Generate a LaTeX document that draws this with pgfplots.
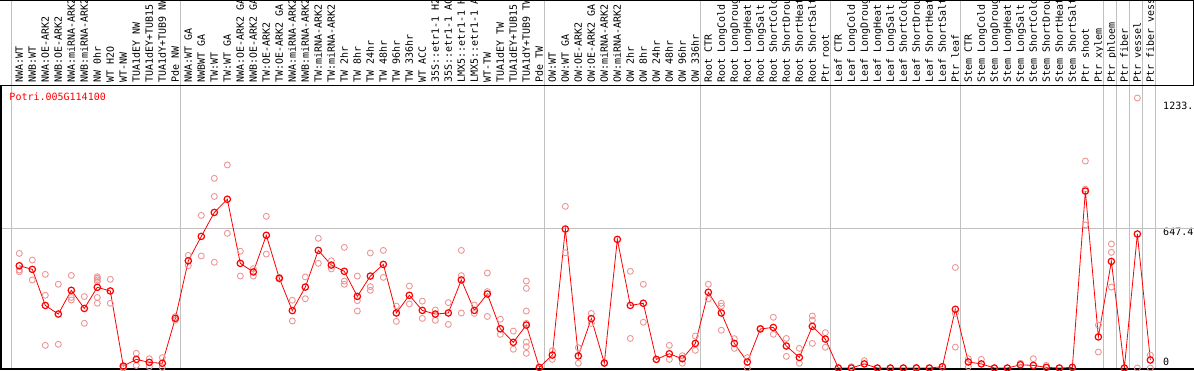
\documentclass[border=0pt]{standalone}
\usepackage{fontspec}
\usepackage{pgfplots}
\pgfplotsset{compat=1.18}
\newfontfamily\dvmono{DejaVu Sans Mono}
\definecolor{rep}{RGB}{236,150,150}
\definecolor{gridg}{RGB}{192,192,192}
\newcommand{\lblfont}{\dvmono\fontsize{10}{12}\selectfont}
\begin{document}
\begin{tikzpicture}
\begin{axis}[
  at={(0,0)}, anchor=south west,
  scale only axis, width=1193pt, height=283.5pt,
  xmin=-1.408, xmax=90.36, ymin=-4.6, ymax=1309.1,
  clip=false,
  axis line style={draw=none},
  major tick length=0pt,
  xtick={0,...,87},
  xticklabels={NWA:WT,NWB:WT,NWA:OE-ARK2,NWB:OE-ARK2,NWA:miRNA-ARK2,NWB:miRNA-ARK2,NW 0hr,WT H2O,WT-NW,TUA1dEY NW,TUA1dEY+TUB15 NW,TUA1dY+TUB9 NW,Pde NW,
    NWA:WT GA,NWBWT GA,TW:WT,TW:WT GA,NWA:OE-ARK2 GA,NWB:OE-ARK2 GA,TW:OE-ARK2,TW:OE-ARK2 GA,NWA:miRNA-ARK2 GA,NWB:miRNA-ARK2 GA,TW:miRNA-ARK2,TW:miRNA-ARK2 GA,TW 2hr,TW 8hr,TW 24hr,TW 48hr,TW 96hr,TW 336hr,WT ACC,35S::etr1-1 H2O,35S::etr1-1 ACC,LMX5::etr1-1 H2O,LMX5::etr1-1 ACC,WT-TW,TUA1dEY TW,TUA1dEY+TUB15 TW,TUA1dY+TUB9 TW,Pde TW,
    OW:WT,OW:WT GA,OW:OE-ARK2,OW:OE-ARK2 GA,OW:miRNA-ARK2,OW:miRNA-ARK2 GA,OW 2hr,OW 8hr,OW 24hr,OW 48hr,OW 96hr,OW 336hr,
    Root CTR,Root LongCold,Root LongDrought,Root LongHeat,Root LongSalt,Root ShortCold,Root ShortDrought,Root ShortHeat,Root ShortSalt,Ptr root,
    Leaf CTR,Leaf LongCold,Leaf LongDrought,Leaf LongHeat,Leaf LongSalt,Leaf ShortCold,Leaf ShortDrought,Leaf ShortHeat,Leaf ShortSalt,Ptr leaf,
    Stem CTR,Stem LongCold,Stem LongDrought,Stem LongHeat,Stem LongSalt,Stem ShortCold,Stem ShortDrought,Stem ShortHeat,Stem ShortSalt,Ptr shoot,Ptr xylem,
    Ptr phloem,Ptr fiber,Ptr vessel,Ptr fiber vessel},
  xticklabel pos=upper,
  xticklabel shift=2.5pt,
  xticklabel style={rotate=90, anchor=west, inner sep=0pt, font=\lblfont, text height=7pt, text depth=0pt},
  ytick={647.4,1233},
  yticklabels={647.4,1233.},
  yticklabel pos=right,
  yticklabel style={anchor=north west, inner sep=0pt, xshift=-31pt, font=\lblfont},
  extra y ticks={0}, extra y tick labels={0},
  extra y tick style={yticklabel style={anchor=south west, yshift=2.5pt}},
]
\pgfplotsinvokeforeach{-0.615,12.385,40.385,52.385,62.385,72.385,83.385,84.385,85.385,86.385,87.385}{
  \draw[gridg, line width=0.9pt] (axis cs:#1,-4.6) -- (axis cs:#1,1309.1) -- ++(0pt,85.5pt);
}
\draw[gridg, line width=0.9pt] (axis cs:-1.408,647.4) -- (axis cs:90.36,647.4);

\addplot[only marks, mark=o, mark size=3pt, color=rep, mark options={line width=0.9pt}] coordinates {
(0,531)(0,454)(0,446)(1,500)(1,408)(2,434)(2,337)(2,105)(3,388)(3,110)
(4,429)(4,327)(4,315)(5,331)(5,207)(6,423)(6,416)(6,408)(6,400)(6,327)(6,300)
(7,411)(7,300)(8,0)(8,5)(9,68)(9,12)(10,43)(10,6)(11,48)(11,3)(12,238)(12,222)
(13,522)(13,474)(14,707)(14,519)(15,879)(15,795)(15,490)(16,941)(16,624)
(17,541)(17,426)(18,460)(18,426)(19,703)(19,528)(20,420)(20,412)(21,314)(21,218)
(22,422)(22,321)(23,601)(23,485)(24,497)(24,459)(25,559)(25,403)(25,388)
(26,426)(26,312)(26,264)(27,533)(27,377)(27,360)(28,545)(28,420)(29,287)(29,216)
(30,380)(30,297)(31,310)(31,230)(32,269)(32,221)(33,303)(33,202)
(34,545)(34,428)(34,255)(35,292)(35,253)(36,440)(36,354)(36,239)(37,226)(37,156)
(38,171)(38,87)(39,403)(39,369)(39,264)(39,207)(39,120)(39,99)(39,68)(40,0)
(41,80)(41,40)(42,749)(42,534)(43,94)(43,22)(44,253)(44,207)(45,23)
(47,448)(47,137)(48,388)(48,212)(49,40)(50,105)(50,40)(51,57)(51,22)(52,148)(52,82)
(53,388)(53,320)(54,300)(54,287)(54,175)(55,136)(55,91)(56,48)(56,0)(57,184)
(58,235)(58,156)(59,137)(59,54)(60,91)(60,22)(61,241)(61,222)(61,114)(62,164)(62,96)
(63,0)(64,6)(65,34)(66,0)(67,0)(68,0)(69,3)(70,0)(71,6)(72,466)(72,253)(72,97)
(73,43)(73,6)(74,40)(75,0)(76,0)(77,22)(78,43)(79,12)(80,0)(81,3)
(82,959)(82,829)(82,663)(83,199)(83,74)(84,575)(84,536)(84,375)(85,0)
(86,1251)(86,0)(87,60)(87,0)
};

\addplot[red, line width=0.8pt, mark=o, mark size=3.2pt, mark options={line width=1.2pt}] coordinates {
(0,474)(1,457)(2,290)(3,250)(4,360)(5,276)(6,374)(7,357)(8,9)(9,40)
(10,26)(11,22)(12,230)(13,497)(14,610)(15,721)(16,782)(17,485)(18,445)(19,615)
(20,416)(21,266)(22,375)(23,545)(24,477)(25,448)(26,332)(27,426)(28,480)(29,255)
(30,337)(31,267)(32,250)(33,255)(34,408)(35,267)(36,343)(37,182)(38,119)(39,199)
(40,3)(41,60)(42,644)(43,56)(44,229)(45,23)(46,596)(47,290)(48,300)(49,40)
(50,66)(51,43)(52,114)(53,351)(54,255)(55,114)(56,28)(57,181)(58,188)(59,102)
(60,49)(61,193)(62,134)(63,0)(64,0)(65,19)(66,0)(67,0)(68,0)(69,0)
(70,0)(71,6)(72,272)(73,28)(74,19)(75,0)(76,0)(77,15)(78,12)(79,3)
(80,0)(81,3)(82,820)(83,144)(84,494)(85,0)(86,621)(87,37)
};

\draw[black, line width=1.4pt] (rel axis cs:0,1) -- (rel axis cs:0,0) -- (rel axis cs:1,0);
\draw[black, line width=1pt] (rel axis cs:0,1) -- (rel axis cs:1,1);
\end{axis}
\draw[black, line width=1pt] (-1pt,368.5pt) -- (1192.5pt,368.5pt) -- (1192.5pt,283.5pt);
\node[anchor=north west, inner sep=0pt, text=red, font=\lblfont] at (8.3pt,276.7pt) {Potri.005G114100};
\pgfresetboundingbox
\path[use as bounding box] (-1pt,-1pt) rectangle (1193pt,369pt);
\end{tikzpicture}
\end{document}
